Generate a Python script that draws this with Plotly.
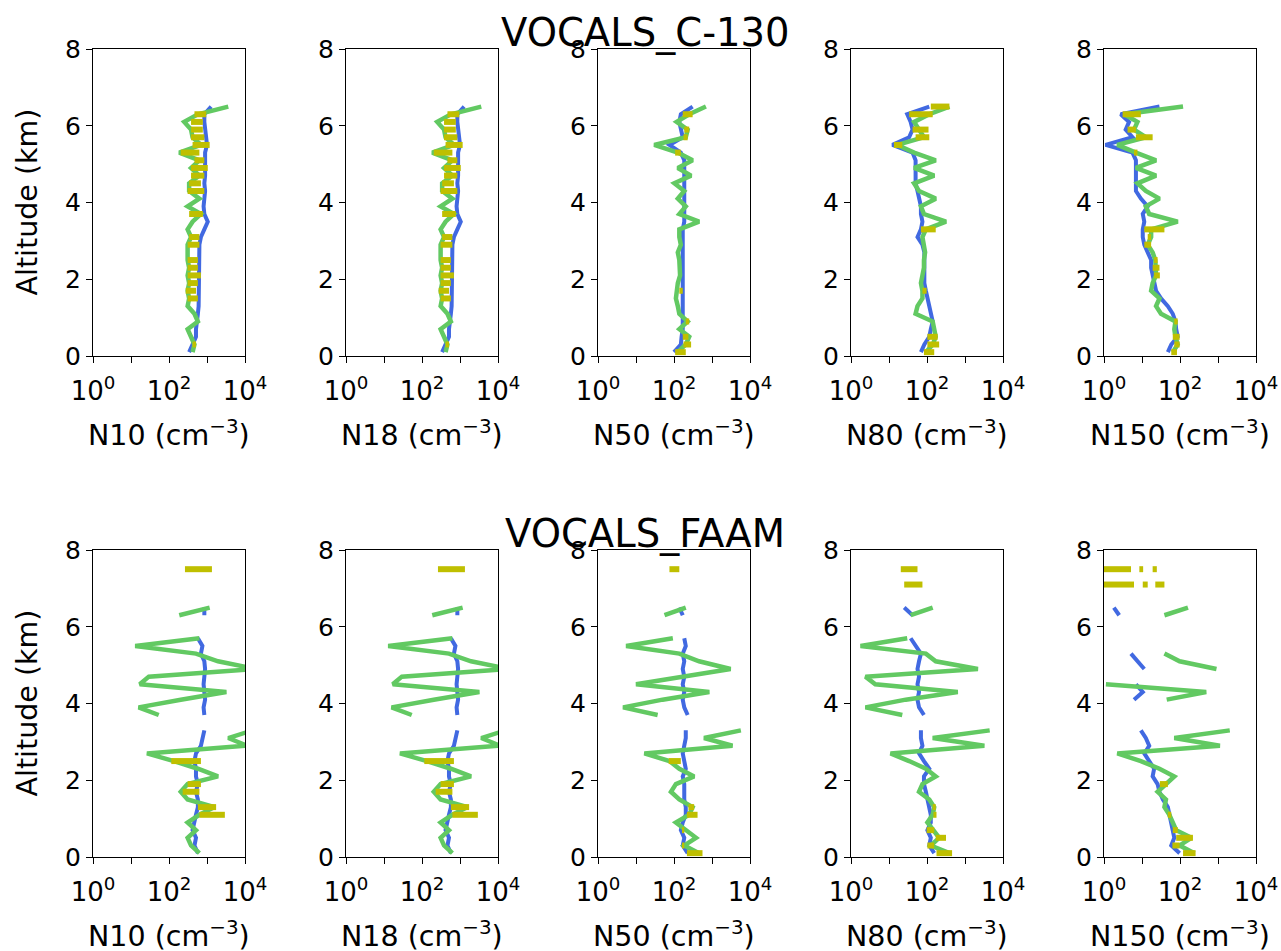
import plotly.graph_objects as go

# Altitude levels (km), top to bottom
ALT = [6.5, 6.3, 6.1, 5.9, 5.7, 5.5, 5.3, 5.1, 4.9, 4.7, 4.5, 4.3, 4.1, 3.9, 3.7, 3.5, 3.3,
       3.1, 2.9, 2.7, 2.5, 2.3, 2.1, 1.9, 1.7, 1.5, 1.3, 1.1, 0.9, 0.7, 0.5, 0.3, 0.1]

X_TICKVALS = [1, 10, 100, 1000, 10000]
X_TICKTEXT = ["10<sup>0</sup>", "", "10<sup>2</sup>", "", "10<sup>4</sup>"]
Y_TICKVALS = [0, 2, 4, 6, 8]
VARIABLES = ["N10", "N18", "N50", "N80", "N150"]
CAMPAIGNS = ["VOCALS_C-130", "VOCALS_FAAM"]

# ---- values are log10 of concentration (cm^-3) ----
# VOCALS C-130
c130_n10_obs = [3.56, 2.76, 2.40, 2.58, 2.62, 2.84, 2.27, 2.80, 2.58, 2.80, 2.53, 2.53, 2.80, 2.49, 2.84, 2.62, 2.49,
                2.58, 2.49, 2.49, 2.49, 2.53, 2.49, 2.53, 2.49, 2.53, 2.49, 2.67, 2.76, 2.49, 2.58, 2.67, 2.62]
c130_n10_mod = [3.11, 2.93, 2.93, 2.95, 2.97, 3.00, 2.95, 2.95, 2.97, 2.95, 2.93, 2.95, 2.93, 2.91, 2.93, 3.02, 2.93,
                2.84, 2.80, 2.80, 2.80, 2.80, 2.80, 2.80, 2.80, 2.78, 2.78, 2.76, 2.73, 2.71, 2.71, 2.62, 2.53]
c130_n10_bar_alt = [6.3, 6.1, 5.9, 5.7, 5.5, 5.3, 5.1, 4.9, 4.7, 4.5, 4.3, 3.7, 3.1, 2.9, 2.5, 2.3, 2.1, 1.9, 1.7, 1.5, 0.3]
c130_n10_bar_lo = [2.67, 2.58, 2.58, 2.58, 2.62, 2.31, 2.67, 2.58, 2.58, 2.53, 2.49, 2.53, 2.53, 2.49, 2.49, 2.49, 2.49, 2.49, 2.44, 2.49, 2.62]
c130_n10_bar_hi = [2.98, 2.89, 2.89, 2.93, 3.07, 2.80, 2.93, 3.02, 2.93, 2.84, 2.93, 2.89, 2.80, 2.80, 2.76, 2.76, 2.84, 2.76, 2.71, 2.76, 2.71]

c130_n18_obs = c130_n10_obs
c130_n18_mod = c130_n10_mod
c130_n18_bar_alt = c130_n10_bar_alt
c130_n18_bar_lo = c130_n10_bar_lo
c130_n18_bar_hi = c130_n10_bar_hi

c130_n50_obs = [2.84, 2.40, 2.07, 2.36, 2.31, 1.48, 2.10, 2.49, 2.10, 2.45, 2.01, 2.27, 2.10, 2.31, 2.14, 2.66, 2.14,
                2.14, 2.18, 2.10, 2.14, 2.14, 2.16, 2.10, 2.07, 2.05, 2.10, 2.14, 2.36, 2.14, 2.40, 2.31, 2.10]
c130_n50_mod = [2.49, 2.18, 2.14, 2.18, 2.23, 1.88, 2.18, 2.27, 2.27, 2.27, 2.27, 2.27, 2.27, 2.27, 2.27, 2.27, 2.23,
                2.23, 2.23, 2.23, 2.23, 2.23, 2.23, 2.23, 2.23, 2.23, 2.23, 2.23, 2.23, 2.23, 2.20, 2.18, 2.00]
c130_n50_bar_alt = [6.3, 5.9, 5.7, 5.3, 1.7, 0.9, 0.5, 0.3, 0.1]
c130_n50_bar_lo = [2.23, 2.27, 2.25, 2.03, 2.14, 2.31, 2.23, 2.25, 2.03]
c130_n50_bar_hi = [2.49, 2.40, 2.36, 2.18, 2.23, 2.40, 2.38, 2.45, 2.31]

c130_n80_obs = [2.59, 2.06, 1.66, 1.79, 1.92, 1.22, 1.66, 2.23, 1.66, 2.19, 1.66, 1.79, 2.23, 1.84, 1.92, 2.50, 1.97,
                1.88, 1.92, 1.95, 1.92, 1.92, 1.88, 1.84, 1.88, 1.88, 1.75, 1.70, 2.15, 2.19, 2.23, 2.15, 1.97]
c130_n80_mod = [2.06, 1.48, 1.57, 1.62, 1.53, 1.09, 1.62, 1.70, 1.70, 1.70, 1.70, 1.75, 1.79, 1.84, 1.84, 1.88, 1.84,
                1.75, 1.88, 1.93, 1.93, 1.93, 1.93, 1.93, 1.97, 2.01, 2.06, 2.10, 2.15, 2.10, 2.06, 1.93, 1.84]
c130_n80_bar_alt = [6.5, 6.3, 5.9, 5.7, 5.5, 3.3, 1.7, 0.5, 0.3, 0.1]
c130_n80_bar_lo = [2.10, 1.53, 1.62, 1.70, 1.13, 1.84, 1.88, 2.01, 2.01, 1.92]
c130_n80_bar_hi = [2.59, 2.15, 2.04, 2.06, 1.35, 2.23, 1.99, 2.28, 2.32, 2.19]

c130_n150_obs = [2.08, 0.53, 0.88, 0.79, 1.10, 0.35, 0.84, 1.37, 0.84, 1.37, 0.88, 1.10, 1.46, 1.10, 1.19, 1.94, 1.24,
                 1.24, 1.15, 1.28, 1.35, 1.37, 1.37, 1.28, 1.24, 1.46, 1.37, 1.50, 1.88, 1.85, 1.88, 1.94, 1.81]
c130_n150_mod = [1.46, 0.44, 0.66, 0.57, 0.75, 0.04, 0.75, 0.84, 0.84, 0.84, 0.84, 0.84, 0.97, 1.15, 1.02, 1.06, 1.02,
                 1.02, 1.06, 1.15, 1.24, 1.24, 1.28, 1.32, 1.37, 1.50, 1.68, 1.81, 1.88, 1.90, 1.94, 1.77, 1.68]
c130_n150_bar_alt = [6.3, 5.9, 5.7, 5.3, 3.3, 3.1, 2.9, 2.5, 2.3, 2.1, 0.9, 0.5, 0.3, 0.1]
c130_n150_bar_lo = [0.49, 0.62, 0.84, 0.79, 1.06, 1.15, 1.06, 1.32, 1.28, 1.32, 1.85, 1.81, 1.85, 1.77]
c130_n150_bar_hi = [0.97, 0.84, 1.28, 0.88, 1.59, 1.24, 1.24, 1.41, 1.46, 1.47, 1.94, 1.99, 1.99, 1.92]

# VOCALS FAAM
faam_n10_obs = [3.07, 2.27, None, None, 2.80, 1.11, 2.71, 3.29, 4.30, 1.47, 1.23, 3.51, 2.31, 1.20, 1.73, None, 4.20,
                3.56, 4.05, 1.42, 2.13, 2.76, 3.29, 2.49, 2.31, 2.49, 3.20, 2.80, 2.49, 2.71, 2.49, 2.58, 2.80]
faam_n10_mod = [2.93, 2.93, None, None, 2.76, 2.88, 2.84, 2.93, 2.95, 2.93, 2.91, 2.93, 2.95, 2.91, 2.93, None, 2.93,
                2.89, 2.84, 2.71, 2.67, 2.71, 2.71, 2.76, 2.71, 2.76, 2.76, 2.71, 2.67, 2.62, 2.71, 2.67, 2.76]
faam_n10_bar_alt = [7.5, 2.5, 1.9, 1.7, 1.3, 1.1]
faam_n10_bar_lo = [2.42, 2.06, 2.49, 2.36, 2.76, 2.80]
faam_n10_bar_hi = [3.13, 2.84, 2.84, 2.80, 3.24, 3.47]

faam_n18_obs = faam_n10_obs
faam_n18_mod = faam_n10_mod
faam_n18_bar_alt = faam_n10_bar_alt
faam_n18_bar_lo = faam_n10_bar_lo
faam_n18_bar_hi = faam_n10_bar_hi

faam_n50_obs = [2.31, 1.75, None, None, 1.97, 0.74, 2.14, 2.66, 3.49, 2.30, 1.00, 2.93, 1.70, 0.66, 1.57, None, 3.76,
                2.79, 3.54, 1.22, 1.88, 2.14, 2.53, 2.05, 1.92, 2.14, 2.49, 2.40, 2.05, 2.31, 2.58, 2.27, 2.66]
faam_n50_mod = [2.14, 2.23, None, None, 2.27, 2.31, 2.23, 2.27, 2.23, 2.27, 2.23, 2.27, 2.23, 2.27, 2.36, None, 2.31,
                2.31, 2.27, 2.23, 2.27, 2.31, 2.23, 2.27, 2.27, 2.27, 2.31, 2.31, 2.23, 2.18, 2.27, 2.23, 2.36]
faam_n50_bar_alt = [7.5, 2.5, 1.3, 1.1, 0.7, 0.3, 0.1]
faam_n50_bar_lo = [1.88, 1.86, 2.38, 2.34, 2.21, 2.21, 2.34]
faam_n50_bar_hi = [2.14, 2.18, 2.53, 2.62, 2.27, 2.27, 2.75]

faam_n80_obs = [2.15, 1.57, None, None, 1.48, 0.25, 1.97, 2.23, 3.34, 0.38, 0.64, 2.81, 1.44, 0.38, 1.35, None, 3.65,
                2.15, 3.51, 1.04, 1.53, 1.97, 2.23, 1.88, 1.79, 2.06, 2.19, 2.15, 2.01, 2.15, 2.32, 2.10, 2.59]
faam_n80_mod = [1.40, 1.62, None, None, 1.57, 1.70, 1.84, 1.79, 1.75, 1.79, 1.75, 1.79, 1.75, 1.79, 1.92, None, 1.84,
                1.84, 1.88, 1.79, 1.92, 2.06, 1.92, 1.92, 1.97, 2.01, 2.06, 2.10, 2.10, 2.01, 2.10, 2.06, 2.19]
faam_n80_bar_alt = [7.5, 7.1, 1.3, 1.1, 0.7, 0.5, 0.3, 0.1]
faam_n80_bar_lo = [1.31, 1.40, 2.15, 2.17, 1.99, 2.23, 2.01, 2.25]
faam_n80_bar_hi = [1.75, 1.88, 2.23, 2.25, 2.19, 2.50, 2.19, 2.66]

faam_n150_obs = [2.21, 1.59, None, None, None, None, 1.59, 1.99, 2.96, None, 0.05, 2.69, 1.65, None, None, None, 3.31,
                 1.85, 3.05, 0.35, 0.97, 1.46, 1.85, 1.63, 1.41, 1.63, 1.59, 1.72, 1.81, 1.90, 2.30, 1.99, 2.38]
faam_n150_mod = [0.26, 0.40, None, None, None, None, 0.71, 0.88, 1.06, None, 0.84, 1.02, 0.79, None, None, None, 0.97,
                 1.10, 1.19, 1.06, 1.19, 1.32, 1.28, 1.41, 1.46, 1.55, 1.68, 1.72, 1.77, 1.81, 1.85, 1.77, 1.99]
faam_n150_bar_alt = [7.5, 7.5, 7.5, 7.1, 7.1, 7.1, 1.9, 1.1, 0.7, 0.5, 0.3, 0.1]
faam_n150_bar_lo = [0.00, 0.93, 1.28, 0.00, 1.02, 1.35, 1.47, 1.68, 1.81, 1.90, 1.80, 2.08]
faam_n150_bar_hi = [0.71, 1.03, 1.39, 0.79, 1.15, 1.59, 1.68, 1.77, 1.94, 2.34, 1.99, 2.41]

PANELS = [
    [(c130_n10_obs, c130_n10_mod, c130_n10_bar_alt, c130_n10_bar_lo, c130_n10_bar_hi),
     (c130_n18_obs, c130_n18_mod, c130_n18_bar_alt, c130_n18_bar_lo, c130_n18_bar_hi),
     (c130_n50_obs, c130_n50_mod, c130_n50_bar_alt, c130_n50_bar_lo, c130_n50_bar_hi),
     (c130_n80_obs, c130_n80_mod, c130_n80_bar_alt, c130_n80_bar_lo, c130_n80_bar_hi),
     (c130_n150_obs, c130_n150_mod, c130_n150_bar_alt, c130_n150_bar_lo, c130_n150_bar_hi)],
    [(faam_n10_obs, faam_n10_mod, faam_n10_bar_alt, faam_n10_bar_lo, faam_n10_bar_hi),
     (faam_n18_obs, faam_n18_mod, faam_n18_bar_alt, faam_n18_bar_lo, faam_n18_bar_hi),
     (faam_n50_obs, faam_n50_mod, faam_n50_bar_alt, faam_n50_bar_lo, faam_n50_bar_hi),
     (faam_n80_obs, faam_n80_mod, faam_n80_bar_alt, faam_n80_bar_lo, faam_n80_bar_hi),
     (faam_n150_obs, faam_n150_mod, faam_n150_bar_alt, faam_n150_bar_lo, faam_n150_bar_hi)],
]

# ---- styling / layout ----
W, H = 1281, 951
FONT = "DejaVu Sans"
BLUE = "#4169e1"
GREEN = "#62c962"
YELLOW = "#bfbf00"
XPIX = [(93, 245), (346, 498), (598, 750), (851, 1003), (1104, 1256)]
YPIX = [(49, 356), (550, 857)]


def lin(v):
    return [None if a is None else 10 ** a for a in v]


fig = go.Figure()
layout = dict(width=W, height=H, margin=dict(l=0, r=0, t=0, b=0, autoexpand=False),
              paper_bgcolor="white", plot_bgcolor="white", showlegend=False,
              font=dict(family=FONT, size=25, color="black"))
annotations = []

for r in range(2):
    for c in range(5):
        k = r * 5 + c + 1
        xs = "" if k == 1 else str(k)
        obs, mod, balt, blo, bhi = PANELS[r][c]
        fig.add_trace(go.Scatter(x=lin(mod), y=ALT, mode="lines", xaxis="x" + xs, yaxis="y" + xs,
                                 line=dict(color=BLUE, width=4), hoverinfo="skip"))
        fig.add_trace(go.Scatter(x=lin(obs), y=ALT, mode="lines", xaxis="x" + xs, yaxis="y" + xs,
                                 line=dict(color=GREEN, width=4.5), hoverinfo="skip"))
        bx, by = [], []
        for a, lo, hi in zip(balt, blo, bhi):
            bx += [10 ** lo, 10 ** hi, None]
            by += [a, a, None]
        fig.add_trace(go.Scatter(x=bx, y=by, mode="lines", xaxis="x" + xs, yaxis="y" + xs,
                                 line=dict(color=YELLOW, width=6), hoverinfo="skip"))

        x0, x1 = XPIX[c]
        y0, y1 = YPIX[r]
        common = dict(showline=True, linecolor="black", linewidth=1.3, mirror=True,
                      ticks="outside", ticklen=6, tickwidth=1.3, tickcolor="black", automargin=False,
                      showgrid=False, zeroline=False, fixedrange=True)
        layout["xaxis" + xs] = dict(domain=[x0 / W, x1 / W], anchor="y" + xs, type="log", range=[0, 4],
                                    tickmode="array", tickvals=X_TICKVALS, ticktext=X_TICKTEXT,
                                    ticklabelstandoff=6,
                                    tickfont=dict(family=FONT, size=26, color="black"), **common)
        layout["yaxis" + xs] = dict(domain=[1 - y1 / H, 1 - y0 / H], anchor="x" + xs, range=[0, 8],
                                    tickmode="array", tickvals=Y_TICKVALS,
                                    tickfont=dict(family=FONT, size=25, color="black"), **common)
        annotations.append(dict(text=VARIABLES[c] + " (cm<sup>\u22123</sup>)", xref="paper", yref="paper",
                                x=(x0 + x1) / 2 / W, y=1 - (y1 + 77) / H, xanchor="center", yanchor="middle",
                                showarrow=False, font=dict(family=FONT, size=28.5, color="black")))
    annotations.append(dict(text="Altitude (km)", xref="paper", yref="paper", textangle=-90,
                            x=27 / W, y=1 - (YPIX[r][0] + YPIX[r][1]) / 2 / H, xanchor="center", yanchor="middle",
                            showarrow=False, font=dict(family=FONT, size=28.5, color="black")))
    annotations.append(dict(text=CAMPAIGNS[r], xref="paper", yref="paper",
                            x=645 / W, y=1 - (YPIX[r][0] - 17) / H, xanchor="center", yanchor="middle",
                            showarrow=False, font=dict(family=FONT, size=38.5, color="black")))

layout["annotations"] = annotations
fig.update_layout(**layout)
fig.write_html("out.html", post_script="document.body.style.margin='0';",
               config={"displayModeBar": False})
